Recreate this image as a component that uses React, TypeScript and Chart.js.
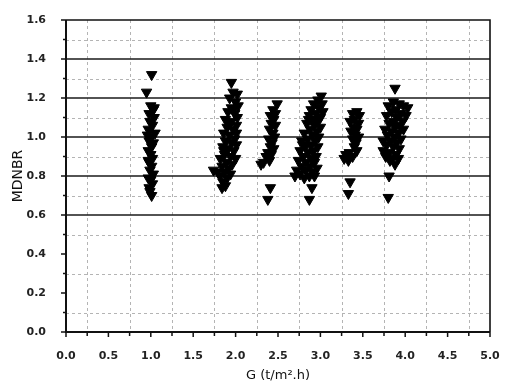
import React, { useEffect, useRef } from "react";
import { Chart, registerables } from "chart.js";

Chart.register(...registerables);

// Cluster near G = 1.0
const g10X = [1.01, 0.95, 1.00, 1.03, 0.98, 1.04, 0.99, 1.02, 0.97, 1.05, 1.00, 0.98, 1.03, 1.01, 0.97, 1.00, 1.02, 0.98, 1.01, 0.99, 1.03, 0.97, 1.00, 1.02, 0.98, 0.99, 1.01, 0.97, 1.04, 0.96];
const g10Y = [1.32, 1.23, 1.16, 1.14, 1.12, 1.10, 1.08, 1.06, 1.04, 1.02, 1.00, 0.98, 0.97, 0.95, 0.93, 0.91, 0.89, 0.87, 0.85, 0.83, 0.81, 0.79, 0.78, 0.76, 0.74, 0.72, 0.70, 0.88, 1.15, 1.01];
// Cluster near G = 1.9
const g19X = [1.95, 1.97, 2.02, 1.93, 2.00, 2.03, 1.95, 1.91, 1.99, 2.02, 1.88, 1.95, 2.01, 1.90, 1.97, 1.86, 2.01, 1.93, 1.99, 1.88, 1.95, 2.01, 1.85, 1.91, 1.98, 1.87, 1.94, 2.00, 1.82, 1.89, 1.96, 1.84, 1.92, 1.74, 1.79, 1.87, 1.94, 1.82, 1.90, 1.85, 1.88, 1.84, 1.97, 1.92, 1.86];
const g19Y = [1.28, 1.23, 1.22, 1.20, 1.18, 1.16, 1.15, 1.13, 1.12, 1.10, 1.09, 1.08, 1.06, 1.05, 1.04, 1.02, 1.02, 1.01, 0.99, 0.98, 0.97, 0.96, 0.95, 0.94, 0.93, 0.91, 0.90, 0.89, 0.89, 0.87, 0.86, 0.85, 0.84, 0.83, 0.82, 0.82, 0.81, 0.80, 0.79, 0.77, 0.75, 0.74, 1.14, 1.07, 0.93];
// Cluster near G = 2.4
const g24X = [2.49, 2.44, 2.47, 2.41, 2.45, 2.42, 2.47, 2.40, 2.44, 2.46, 2.39, 2.43, 2.41, 2.45, 2.38, 2.42, 2.36, 2.40, 2.33, 2.30, 2.41, 2.38];
const g24Y = [1.17, 1.14, 1.12, 1.11, 1.09, 1.07, 1.06, 1.04, 1.02, 1.00, 0.99, 0.97, 0.95, 0.94, 0.92, 0.91, 0.90, 0.88, 0.87, 0.86, 0.74, 0.68];
// Cluster near G = 2.9
const g29X = [3.01, 2.97, 3.02, 2.92, 2.98, 2.89, 3.03, 2.95, 2.87, 3.00, 2.91, 2.97, 2.84, 2.93, 3.00, 2.88, 2.96, 2.81, 2.91, 2.98, 2.85, 2.78, 2.94, 2.89, 2.82, 2.97, 2.76, 2.92, 2.86, 2.80, 2.95, 2.89, 2.74, 2.83, 2.93, 2.78, 2.88, 2.72, 2.96, 2.83, 2.91, 2.76, 2.87, 2.70, 2.81, 2.93, 2.90, 2.87, 2.79, 2.86];
const g29Y = [1.21, 1.19, 1.17, 1.17, 1.15, 1.14, 1.13, 1.12, 1.11, 1.10, 1.09, 1.08, 1.07, 1.06, 1.05, 1.04, 1.03, 1.02, 1.01, 1.00, 0.99, 0.98, 0.98, 0.96, 0.95, 0.95, 0.93, 0.93, 0.92, 0.90, 0.90, 0.89, 0.88, 0.87, 0.87, 0.85, 0.85, 0.83, 0.84, 0.83, 0.82, 0.81, 0.80, 0.80, 0.79, 0.80, 0.74, 0.68, 0.96, 1.09];
// Cluster near G = 3.4
const g34X = [3.43, 3.38, 3.46, 3.40, 3.35, 3.45, 3.39, 3.43, 3.36, 3.41, 3.45, 3.38, 3.42, 3.40, 3.43, 3.34, 3.30, 3.38, 3.33, 3.28, 3.35, 3.33];
const g34Y = [1.13, 1.12, 1.11, 1.09, 1.08, 1.07, 1.05, 1.04, 1.03, 1.01, 1.00, 0.99, 0.97, 0.95, 0.93, 0.92, 0.91, 0.90, 0.88, 0.89, 0.77, 0.71];
// Cluster near G = 3.9
const g39X = [3.88, 3.86, 3.93, 3.80, 3.98, 4.03, 3.89, 3.84, 3.95, 4.01, 3.78, 3.90, 3.86, 3.97, 3.81, 3.93, 3.88, 3.76, 3.98, 3.84, 3.92, 3.79, 3.88, 3.95, 3.74, 3.83, 3.90, 3.78, 3.86, 3.93, 3.74, 3.81, 3.89, 3.77, 3.85, 3.92, 3.82, 3.88, 3.81, 3.80];
const g39Y = [1.25, 1.18, 1.17, 1.16, 1.16, 1.15, 1.14, 1.13, 1.12, 1.11, 1.11, 1.10, 1.08, 1.08, 1.07, 1.06, 1.05, 1.04, 1.04, 1.03, 1.02, 1.01, 1.00, 0.99, 0.98, 0.98, 0.97, 0.96, 0.95, 0.94, 0.93, 0.92, 0.91, 0.90, 0.89, 0.89, 0.88, 0.86, 0.80, 0.69];

const clustersX = [g10X, g19X, g24X, g29X, g34X, g39X];
const clustersY = [g10Y, g19Y, g24Y, g29Y, g34Y, g39Y];

// Axis / grid values
const xMajorTicks = [0, 0.5, 1, 1.5, 2, 2.5, 3, 3.5, 4, 4.5, 5];
const xMinorTicks = [0.25, 0.75, 1.25, 1.75, 2.25, 2.75, 3.25, 3.75, 4.25, 4.75];
const yMajorTicks = [0, 0.2, 0.4, 0.6, 0.8, 1.0, 1.2, 1.4, 1.6];
const yMinorTicks = [0.1, 0.3, 0.5, 0.7, 0.9, 1.1, 1.3, 1.5];
const ySolidLines = [0.6, 0.8, 1.0, 1.2, 1.4];

const xTitle = "G (t/m².h)";
const yTitle = "MDNBR";

const gridPlugin = {
  id: "customGrid",
  beforeDatasetsDraw(chart: any) {
    const { ctx, chartArea, scales } = chart;
    const xs = scales.x;
    const ys = scales.y;
    const { left, right, top, bottom } = chartArea;
    ctx.save();
    ctx.strokeStyle = "#b4b4b4";
    ctx.lineWidth = 1;
    ctx.setLineDash([3, 3]);
    yMinorTicks.forEach((v) => {
      const y = Math.round(ys.getPixelForValue(v)) + 0.5;
      ctx.beginPath();
      ctx.moveTo(left, y);
      ctx.lineTo(right, y);
      ctx.stroke();
    });
    xMinorTicks.forEach((v) => {
      const x = Math.round(xs.getPixelForValue(v)) + 0.5;
      ctx.beginPath();
      ctx.moveTo(x, top);
      ctx.lineTo(x, bottom);
      ctx.stroke();
    });
    ctx.setLineDash([]);
    ctx.strokeStyle = "#1a1a1a";
    ctx.lineWidth = 1.6;
    ySolidLines.forEach((v) => {
      const y = ys.getPixelForValue(v);
      ctx.beginPath();
      ctx.moveTo(left, y);
      ctx.lineTo(right, y);
      ctx.stroke();
    });
    ctx.restore();
  },
  afterDatasetsDraw(chart: any) {
    const { ctx, chartArea, scales } = chart;
    const xs = scales.x;
    const ys = scales.y;
    const { left, right, top, bottom } = chartArea;
    ctx.save();
    ctx.strokeStyle = "#111";
    ctx.lineWidth = 1.6;
    ctx.beginPath();
    ctx.moveTo(left, top);
    ctx.lineTo(right, top);
    ctx.lineTo(right, bottom);
    ctx.stroke();
    ctx.lineWidth = 2;
    ctx.beginPath();
    ctx.moveTo(left, top);
    ctx.lineTo(left, bottom);
    ctx.lineTo(right, bottom);
    ctx.stroke();
    ctx.lineWidth = 1.5;
    xMajorTicks.forEach((v) => {
      const x = xs.getPixelForValue(v);
      ctx.beginPath();
      ctx.moveTo(x, bottom);
      ctx.lineTo(x, bottom + 5);
      ctx.stroke();
    });
    xMinorTicks.forEach((v) => {
      const x = xs.getPixelForValue(v);
      ctx.beginPath();
      ctx.moveTo(x, bottom);
      ctx.lineTo(x, bottom + 4);
      ctx.stroke();
    });
    yMajorTicks.forEach((v) => {
      const y = ys.getPixelForValue(v);
      ctx.beginPath();
      ctx.moveTo(left - 5, y);
      ctx.lineTo(left, y);
      ctx.stroke();
    });
    yMinorTicks.forEach((v) => {
      const y = ys.getPixelForValue(v);
      ctx.beginPath();
      ctx.moveTo(left - 3, y);
      ctx.lineTo(left, y);
      ctx.stroke();
    });
    ctx.restore();
  },
};

export default function App() {
  const canvasRef = useRef<HTMLCanvasElement | null>(null);

  useEffect(() => {
    document.body.style.margin = "0";
    const canvas = canvasRef.current;
    if (!canvas) return;
    const points: { x: number; y: number }[] = [];
    clustersX.forEach((xsArr, ci) => {
      xsArr.forEach((xv, i) => points.push({ x: xv, y: clustersY[ci][i] }));
    });
    const tickFont = { family: "DejaVu Sans", size: 11, weight: "bold" as const };
    const chart = new Chart(canvas, {
      type: "scatter",
      data: {
        datasets: [
          {
            data: points,
            pointStyle: "triangle",
            rotation: 180,
            radius: 6,
            backgroundColor: "#000",
            borderColor: "#000",
            borderWidth: 1,
          },
        ],
      },
      plugins: [gridPlugin],
      options: {
        animation: false,
        responsive: false,
        layout: { padding: { left: 0, top: 20, right: 20, bottom: 0 } },
        plugins: { legend: { display: false }, tooltip: { enabled: false } },
        scales: {
          x: {
            type: "linear",
            min: 0,
            max: 5,
            grid: { display: false },
            border: { display: false },
            ticks: {
              stepSize: 0.5,
              padding: 10,
              color: "#222",
              font: tickFont,
              callback: (v: any) => Number(v).toFixed(1),
            },
            title: {
              display: true,
              text: xTitle,
              color: "#111",
              font: { family: "DejaVu Sans", size: 13 },
              padding: { top: 0, bottom: 4 },
            },
            afterFit: (s: any) => {
              s.height = 55;
            },
          },
          y: {
            type: "linear",
            min: 0,
            max: 1.6,
            grid: { display: false },
            border: { display: false },
            ticks: {
              stepSize: 0.2,
              padding: 12,
              color: "#222",
              font: tickFont,
              callback: (v: any) => Number(v).toFixed(1),
            },
            title: {
              display: true,
              text: yTitle,
              color: "#111",
              font: { family: "DejaVu Sans", size: 14 },
              padding: { top: 10, bottom: 0 },
            },
            afterFit: (s: any) => {
              s.width = 66;
            },
          },
        },
      },
    });
    return () => chart.destroy();
  }, []);

  return (
    <div style={{ width: 510, height: 387 }}>
      <canvas ref={canvasRef} width={510} height={387} />
    </div>
  );
}
